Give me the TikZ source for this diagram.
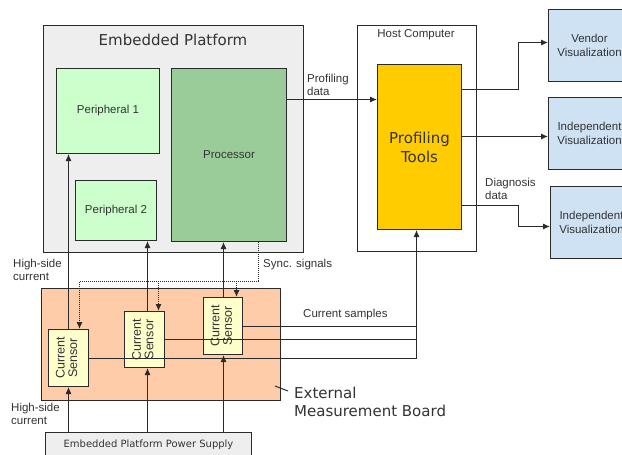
\documentclass[tikz,border=0pt]{standalone}
\usepackage{fontspec}
\setmainfont{Liberation Sans}
\newfontfamily\dejavu{DejaVu Sans}
\usetikzlibrary{arrows.meta}
\pgfdeclarelayer{bg}
\pgfdeclarelayer{fg}
\pgfsetlayers{bg,main,fg}
\definecolor{linec}{HTML}{2A2A2A}
\definecolor{textc}{HTML}{333333}
\definecolor{epfill}{HTML}{EEEEEE}
\definecolor{perfill}{HTML}{CCFFCC}
\definecolor{procfill}{HTML}{99CC99}
\definecolor{toolfill}{HTML}{FFCC00}
\definecolor{visfill}{HTML}{CFE2F3}
\definecolor{boardfill}{HTML}{FFCCAA}
\definecolor{sensfill}{HTML}{FFFFCC}
\begin{document}
\begin{tikzpicture}[x=1pt,y=-1pt,
  box/.style={draw=linec, line width=1pt, anchor=north west, inner sep=0pt, align=center, text=textc,
    font=\fontsize{11.5}{13.5}\selectfont},
  sensor/.style={box, fill=sensfill, font=\fontsize{12.5}{12.5}\selectfont},
  lbl/.style={font=\fontsize{11.5}{13}\selectfont, text=textc, align=left, inner sep=0pt},
  big/.style={font=\dejavu\fontsize{15}{18}\selectfont, text=textc, inner sep=0pt},
  arr/.style={-{Latex[length=7pt,width=6pt]}, line width=1pt, draw=linec},
  ln/.style={line width=1pt, draw=linec},
  syncl/.style={densely dotted, line width=1pt, draw=linec}]
\useasboundingbox (0,0) rectangle (622,455);

\begin{pgfonlayer}{bg}
\fill[white] (0,0) rectangle (622,455);
\node[box, fill=epfill, minimum width=260pt, minimum height=227pt] (ep) at (43,25) {};
\node[box, fill=white, minimum width=119pt, minimum height=226pt] (host) at (357,25) {};
\node[box, fill=boardfill, minimum width=239pt, minimum height=112pt] (board) at (41,288) {};
\end{pgfonlayer}

\node[big] (eptitle) at (173,40) {Embedded Platform};
\node[lbl] (hosttitle) at (416,35) {Host Computer};

% current sensors (connectors are drawn over them)
\node[sensor, minimum width=40pt, minimum height=57pt] (s1) at (48,329)
  {\rotatebox{90}{\begin{tabular}{@{}c@{}}Current\\Sensor\end{tabular}}};
\node[sensor, minimum width=40pt, minimum height=56pt] (s2) at (124,311)
  {\rotatebox{90}{\begin{tabular}{@{}c@{}}Current\\Sensor\end{tabular}}};
\node[sensor, minimum width=39pt, minimum height=57pt] (s3) at (203,297)
  {\rotatebox{90}{\begin{tabular}{@{}c@{}}Current\\Sensor\end{tabular}}};

\begin{pgfonlayer}{fg}
\node[box, fill=perfill, minimum width=103pt, minimum height=85pt] (p1) at (56,68) {Peripheral 1};
\node[box, fill=perfill, minimum width=81pt, minimum height=60pt] (p2) at (75,180) {Peripheral 2};
\node[box, fill=procfill, minimum width=115pt, minimum height=173pt] (proc) at (171,68) {Processor};
\node[box, fill=toolfill, minimum width=84pt, minimum height=165pt,
  font=\dejavu\fontsize{15}{19}\selectfont] (tools) at (377,64) {Profiling\\Tools};
\node[box, fill=visfill, minimum width=82pt, minimum height=72pt] (v1) at (548,9) {Vendor\\Visualization};
\node[box, fill=visfill, minimum width=82pt, minimum height=72pt] (v2) at (548,97) {Independent\\Visualization};
\node[box, fill=visfill, minimum width=82pt, minimum height=72pt] (v3) at (550,186) {Independent\\Visualization};
\node[box, fill=epfill, minimum width=206pt, minimum height=24pt,
  font=\dejavu\fontsize{10}{12}\selectfont] (ps) at (45,432) {Embedded Platform Power Supply};
\end{pgfonlayer}

% labels
\node[lbl, anchor=west] (pdlbl) at (307,85) {Profiling\\data};
\node[lbl, anchor=west] (ddlbl) at (485,189) {Diagnosis\\data};
\node[lbl, anchor=west] (synclbl) at (263,265) {Sync. signals};
\node[lbl, anchor=west] (cslbl) at (303,315) {Current samples};
\node[lbl, anchor=west] (hs1) at (13,270) {High-side\\current};
\node[lbl, anchor=west] (hs2) at (11,414) {High-side\\current};
\node[big, align=left, anchor=west] (emb) at (294,402) {External\\Measurement Board};
\coordinate (lead1) at (275,386);
\coordinate (lead2) at (288,391);
\draw[ln] (lead1) -- (lead2);

% profiling data
\draw[arr] ([yshift=55.5pt]proc.east) -- ([yshift=55.5pt]proc.east -| tools.west);
% outputs
\draw[arr] ([yshift=57.5pt]tools.east) -- ++(56,0) |- ([yshift=3pt]v1.west);
\draw[arr] ([yshift=10.5pt]tools.east) -- ([yshift=10.5pt]tools.east -| v2.west);
\draw[arr] ([yshift=-58.5pt]tools.east) -- ++(56,0) |- ([yshift=-4pt]v3.west);

% power supply to sensors
\draw[arr] (s1.south |- ps.north) -- (s1.south);
\draw[arr] ([xshift=3pt]s2.south |- ps.north) -- ([xshift=3pt]s2.south);
\draw[arr] ([xshift=0.5pt]s3.south |- ps.north) -- ([xshift=0.5pt]s3.south);
% sensors to consumers
\draw[arr] (s1.north) -- (s1.north |- p1.south);
\draw[arr] ([xshift=3pt]s2.north) -- ([xshift=3pt]s2.north |- p2.south);
\draw[arr] ([xshift=0.5pt]s3.north) -- ([xshift=0.5pt]s3.north |- proc.south);

% sync signals
\coordinate (sy) at ([xshift=-29pt]proc.south east);
\coordinate (syk) at (0,281);
\draw[syncl, -{Latex[length=7pt,width=6pt]}] (sy) -- (sy |- syk) -| ([xshift=11pt]s1.north);
\draw[syncl, -{Latex[length=7pt,width=6pt]}] ([xshift=14pt]s2.north |- syk) -- ([xshift=14pt]s2.north);
\draw[syncl, -{Latex[length=7pt,width=6pt]}] ([xshift=13.5pt]s3.north |- syk) -- ([xshift=13.5pt]s3.north);

% current samples
\coordinate (cs) at ([xshift=-3pt]tools.south);
\draw[ln] (s3.east) -- (s3.east -| cs);
\draw[ln] (s2.east) -- (s2.east -| cs);
\draw[arr] (s1.east) -- (s1.east -| cs) -- (cs);
\end{tikzpicture}
\end{document}
